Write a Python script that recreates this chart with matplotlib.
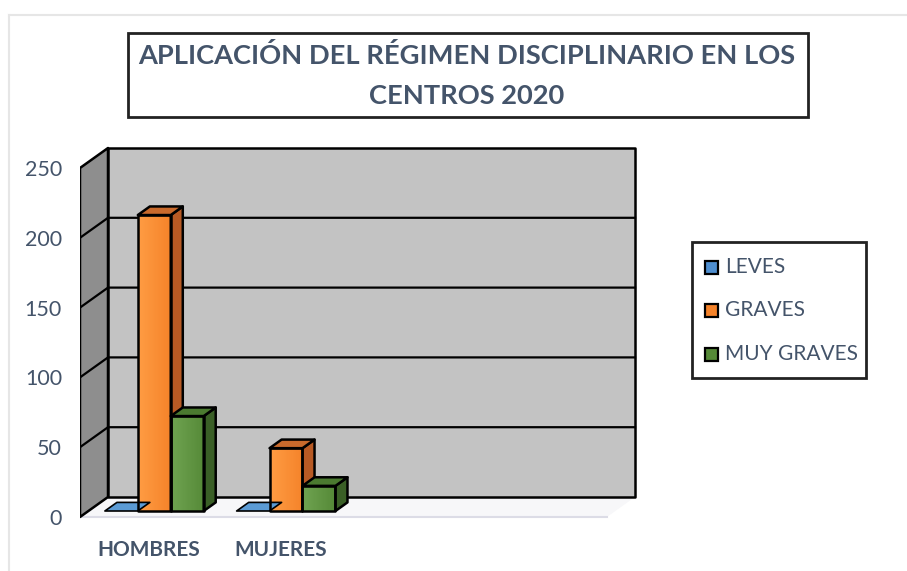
import numpy as np
import matplotlib.pyplot as plt
from matplotlib.colors import to_rgb
from matplotlib.patches import Polygon, Rectangle

# Data
categories = ["HOMBRES", "MUJERES", "", ""]
series = ["LEVES", "GRAVES", "MUY GRAVES"]
leves = [0, 0]
graves = [212, 45]
muy_graves = [68, 18]
yticks = [0, 50, 100, 150, 200, 250]

# face colours: front, side, top
colors = {
    "LEVES": ("#4f8fd0", "#3a6ea6", "#5b9bd5"),
    "GRAVES": ("#f5832a", "#b85a24", "#c96a2c"),
    "MUY GRAVES": ("#568a38", "#3a5f26", "#4b7a30"),
}
text_col = "#44546a"
plt.rcParams['font.family'] = ['Lato', 'DejaVu Sans']

W, H = 907, 571
fig = plt.figure(figsize=(W / 100, H / 100), dpi=100)
fig.patch.set_facecolor("white")

# light frame round the picture
frame = fig.add_axes([0, 0, 1, 1])
frame.set_xlim(0, W)
frame.set_ylim(H, 0)
frame.axis("off")
frame.plot([9, W], [15, 15], color="#e6e6e6", lw=1.5)
frame.plot([9, 9], [15, H], color="#e6e6e6", lw=1.5)

# plot area: x in category slots, y in value units
px_per_slot = 131.75
px_per_unit = 1.396
x0_px, y0_px = 80, 517
left_px, right_px, top_px, bot_px = 80, 640, 140, 522
ax = fig.add_axes([left_px / W, (H - bot_px) / H,
                   (right_px - left_px) / W, (bot_px - top_px) / H])
ax.set_xlim((left_px - x0_px) / px_per_slot, (right_px - x0_px) / px_per_slot)
ax.set_ylim((y0_px - bot_px) / px_per_unit, (y0_px - top_px) / px_per_unit)
for s in ax.spines.values():
    s.set_visible(False)
ax.set_facecolor("none")
ax.set_xticks([])
ax.set_yticks(yticks)
ax.set_yticklabels([str(t) for t in yticks], fontsize=15.5, color=text_col)
ax.tick_params(axis="y", length=0, pad=13)

n = len(categories)
ymax = yticks[-1]
dx, dy = 28 / px_per_slot, 20 / px_per_unit

def poly(pts, fc, ec="black", lw=1.8, z=1):
    ax.add_patch(Polygon(pts, closed=True, facecolor=fc, edgecolor=ec,
                         linewidth=lw, joinstyle="round", zorder=z))

# floor
poly([(0, 0), (n, 0), (n + dx, dy), (dx, dy)], "#f7f7f9", ec="none", z=1)
ax.plot([0, n], [0, 0], color="#dcdce6", lw=1.5, zorder=1)
# side wall
poly([(0, 0), (dx, dy), (dx, ymax + dy), (0, ymax)], "#8e8e8e", z=2)
# back wall
poly([(dx, dy), (n + dx, dy), (n + dx, ymax + dy), (dx, ymax + dy)], "#c3c3c3", z=2)
for t in yticks[1:-1]:
    ax.plot([0, dx, n + dx], [t, t + dy, t + dy], color="black", lw=1.6, zorder=3)

# bars, drawn left to right so each one covers the side of the previous
bw = 0.25
f0, f1 = 0.3, 0.73
values = [leves, graves, muy_graves]
for ci in range(len(graves)):
    for si, name in enumerate(series):
        v = values[si][ci]
        fc, sc, tc = colors[name]
        xa = ci + 0.125 + si * bw + f0 * dx
        xb = xa + bw
        ya = f0 * dy
        ex, ey = (f1 - f0) * dx, (f1 - f0) * dy
        if v > 0:
            # front face with a soft horizontal gradient
            rect = Rectangle((xa, ya), bw, v, facecolor="none", edgecolor="none", zorder=5)
            ax.add_patch(rect)
            g = np.linspace(0, 1, 64)
            base = np.array(to_rgb(fc))
            light = np.clip(base + 0.10, 0, 1)
            grad = light[None, :] * (1 - g[:, None]) + base[None, :] * g[:, None]
            im = ax.imshow(grad[None, :, :], extent=(xa, xb, ya, ya + v),
                           aspect="auto", zorder=5, interpolation="bilinear")
            im.set_clip_path(rect)
            poly([(xa, ya), (xb, ya), (xb, ya + v), (xa, ya + v)], "none", z=6)
            poly([(xb, ya), (xb + ex, ya + ey), (xb + ex, ya + ey + v), (xb, ya + v)], sc, z=5)
        poly([(xa, ya + v), (xb, ya + v), (xb + ex, ya + ey + v), (xa + ex, ya + ey + v)],
             tc, lw=1.2 if v == 0 else 1.8, z=6)

for ci, lab in enumerate(categories):
    if lab:
        ax.text(ci + 0.52, -23.5, lab, ha="center", va="center", fontsize=15,
                fontweight="bold", color=text_col)

# title box
frame.add_patch(Rectangle((128, 33), 680, 84, facecolor="white", edgecolor="#222222",
                          linewidth=2, zorder=5))
frame.text(467, 56, "APLICACIÓN DEL RÉGIMEN DISCIPLINARIO EN LOS", ha="center", va="center",
           fontsize=19.6, fontweight="bold", color=text_col, zorder=6)
frame.text(467, 96, "CENTROS 2020", ha="center", va="center",
           fontsize=19.6, fontweight="bold", color=text_col, zorder=6)

# legend
frame.add_patch(Rectangle((692, 242), 174, 136, facecolor="white", edgecolor="#222222",
                          linewidth=2, zorder=5))
for i, name in enumerate(series):
    yy = 267 + i * 43.5
    frame.add_patch(Rectangle((705, yy - 6.5), 13, 13, facecolor=colors[name][0],
                              edgecolor="black", linewidth=1.6, zorder=6))
    frame.text(725, yy, name, ha="left", va="center", fontsize=15,
               color=text_col, zorder=6)

fig.savefig("out.png", dpi=100)
